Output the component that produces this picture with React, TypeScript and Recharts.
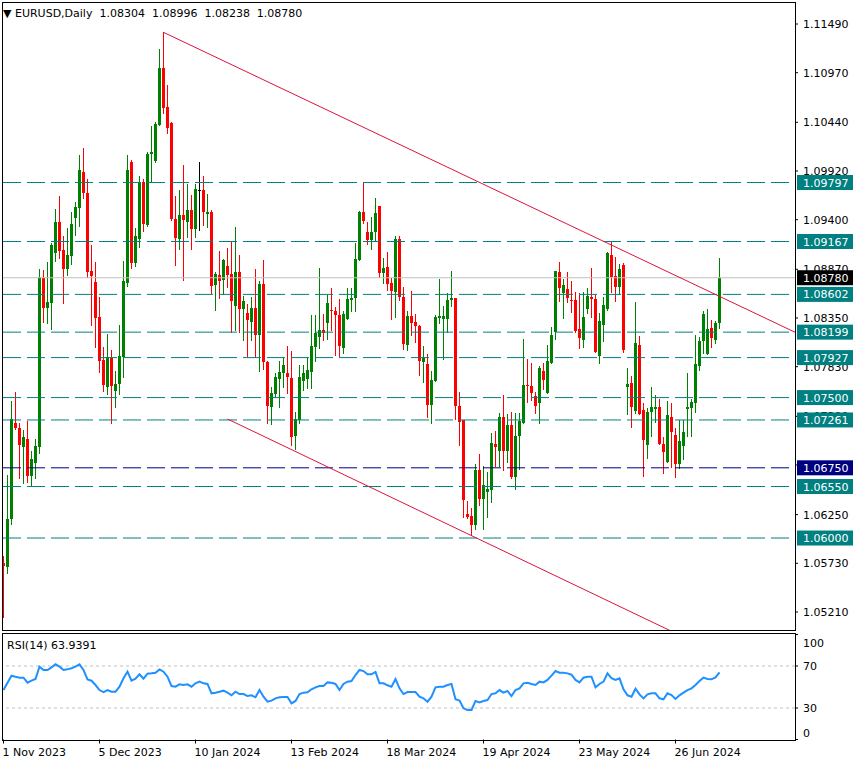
import React from "react";
import {
  ComposedChart,
  Bar,
  Line,
  XAxis,
  YAxis,
  ReferenceLine,
} from "recharts";

// EURUSD daily, bar 0 = 1 Nov 2023
const opens = [
  1.0573, 1.05694, 1.06203, 1.07225, 1.07175, 1.06972, 1.07057, 1.06655, 1.06798, 1.06975,
  1.08777, 1.0846, 1.08513, 1.09047, 1.09375, 1.09076, 1.08876, 1.09015, 1.09421, 1.09528,
  1.09909, 1.09685, 1.08852, 1.08734, 1.0836, 1.07904, 1.07616, 1.07919, 1.07573, 1.07642,
  1.07936, 1.08727, 1.10019, 1.0894, 1.09197, 1.09802, 1.09343, 1.10101, 1.1003, 1.10414,
  1.1102, 1.10603, 1.10432, 1.09407, 1.09193, 1.0945, 1.09375, 1.09503, 1.093, 1.09714,
  1.09714, 1.0946, 1.09482, 1.08702, 1.08809, 1.08756, 1.08905, 1.0882, 1.08481, 1.08841,
  1.08449, 1.084, 1.08307, 1.08457, 1.08171, 1.08716, 1.07883, 1.07396, 1.07531, 1.07698,
  1.07766, 1.07759, 1.07712, 1.07082, 1.0726, 1.07669, 1.07698, 1.07776, 1.08043, 1.0815,
  1.08222, 1.08289, 1.08435, 1.08425, 1.08379, 1.08033, 1.08342, 1.08545, 1.0856, 1.08969,
  1.09479, 1.09268, 1.09183, 1.09261, 1.09546, 1.08834, 1.08891, 1.08727, 1.08631, 1.09193,
  1.08577, 1.08061, 1.08371, 1.08307, 1.08264, 1.07883, 1.07858, 1.07424, 1.0768, 1.08353,
  1.08336, 1.08342, 1.08535, 1.0856, 1.0741, 1.07257, 1.06256, 1.06235, 1.06139, 1.06726,
  1.0642, 1.06499, 1.06513, 1.07004, 1.06933, 1.07296, 1.06933, 1.07207, 1.06648, 1.07093,
  1.07225, 1.07634, 1.07624, 1.0752, 1.07439, 1.07784, 1.07552, 1.07872, 1.08197, 1.08841,
  1.0862, 1.08656, 1.08542, 1.08542, 1.08232, 1.08107, 1.08449, 1.08571, 1.08553, 1.07947,
  1.08275, 1.08446, 1.09023, 1.08798, 1.08678, 1.08919, 1.07616, 1.07652, 1.07356, 1.08058,
  1.07364, 1.06997, 1.07338, 1.07381, 1.07399, 1.07004, 1.06815, 1.07292, 1.071, 1.0679,
  1.0698, 1.0737, 1.07392, 1.07445, 1.0784, 1.08107, 1.07968, 1.0824, 1.08122, 1.08304,
];

const highs = [
  1.05808, 1.06673, 1.07463, 1.07556, 1.07225, 1.07154, 1.07253, 1.06929, 1.07057, 1.08873,
  1.08862, 1.08948, 1.09148, 1.09514, 1.09653, 1.09226, 1.09311, 1.09482, 1.09589, 1.10094,
  1.10165, 1.09834, 1.09129, 1.08948, 1.08577, 1.0804, 1.08179, 1.08008, 1.07784, 1.08275,
  1.08959, 1.10094, 1.10037, 1.09311, 1.0987, 1.09834, 1.10123, 1.104, 1.10446, 1.11223,
  1.11401, 1.10838, 1.10446, 1.09653, 1.09717, 1.09984, 1.09781, 1.09667, 1.09781, 1.10016,
  1.09866, 1.09674, 1.09503, 1.08841, 1.09065, 1.08983, 1.09097, 1.09165, 1.09322, 1.09023,
  1.08585, 1.08499, 1.08577, 1.08873, 1.08742, 1.08969, 1.0789, 1.07616, 1.07759, 1.07891,
  1.07936, 1.08051, 1.07997, 1.07349, 1.07848, 1.07848, 1.07936, 1.08382, 1.08382, 1.08887,
  1.08392, 1.08599, 1.08667, 1.0847, 1.08556, 1.08425, 1.08667, 1.08667, 1.09148, 1.09489,
  1.09799, 1.09378, 1.09432, 1.09628, 1.09546, 1.08987, 1.09051, 1.08774, 1.09226, 1.09226,
  1.08684, 1.08428, 1.08638, 1.08392, 1.08275, 1.08051, 1.07965, 1.07784, 1.08379, 1.08766,
  1.08481, 1.08614, 1.08852, 1.0856, 1.07559, 1.07257, 1.06399, 1.06317, 1.06787, 1.06897,
  1.06769, 1.06705, 1.07125, 1.07143, 1.07338, 1.07527, 1.07324, 1.07343, 1.07332, 1.07332,
  1.08125, 1.07909, 1.07866, 1.07556, 1.0784, 1.07866, 1.08061, 1.08257, 1.08855, 1.08948,
  1.08763, 1.08841, 1.08742, 1.08631, 1.08614, 1.08624, 1.08667, 1.08887, 1.08603, 1.084,
  1.08577, 1.09051, 1.09158, 1.09004, 1.08923, 1.08934, 1.07819, 1.0773, 1.08524, 1.08158,
  1.07439, 1.07385, 1.07616, 1.07527, 1.07485, 1.07082, 1.07463, 1.07439, 1.07178, 1.0726,
  1.0726, 1.07759, 1.07488, 1.08168, 1.0815, 1.08428, 1.08443, 1.08328, 1.08318, 1.08996,
];

const lows = [
  1.0516, 1.05623, 1.06146, 1.07161, 1.06638, 1.06584, 1.06595, 1.06556, 1.06644, 1.06911,
  1.0831, 1.08293, 1.08235, 1.08962, 1.08994, 1.08513, 1.08812, 1.08926, 1.09236, 1.09332,
  1.09631, 1.08784, 1.08275, 1.08037, 1.07773, 1.07573, 1.07538, 1.07232, 1.07402, 1.07538,
  1.07723, 1.08695, 1.08881, 1.08908, 1.09111, 1.09282, 1.09336, 1.09799, 1.10016, 1.10408,
  1.10536, 1.10329, 1.09396, 1.08916, 1.0909, 1.08756, 1.09218, 1.09087, 1.09218, 1.0929,
  1.09343, 1.09325, 1.08614, 1.08435, 1.0856, 1.08606, 1.08684, 1.082, 1.08222, 1.082,
  1.08115, 1.07947, 1.08115, 1.07936, 1.07787, 1.07802, 1.07225, 1.07218, 1.0752, 1.07402,
  1.07616, 1.07552, 1.06993, 1.06947, 1.07225, 1.07581, 1.07605, 1.07599, 1.07894, 1.08026,
  1.08115, 1.08122, 1.08222, 1.07955, 1.07947, 1.07973, 1.08339, 1.08428, 1.08428, 1.08969,
  1.09361, 1.0914, 1.09083, 1.09172, 1.08791, 1.0872, 1.08649, 1.08342, 1.08357, 1.08542,
  1.08015, 1.08008, 1.08168, 1.08097, 1.07741, 1.07669, 1.07296, 1.07232, 1.0768, 1.083,
  1.07909, 1.08197, 1.08478, 1.07271, 1.0699, 1.06221, 1.06211, 1.06029, 1.061, 1.06349,
  1.061, 1.06221, 1.06381, 1.06769, 1.06769, 1.06726, 1.06815, 1.06638, 1.0652, 1.0674,
  1.07225, 1.07456, 1.07474, 1.07338, 1.07232, 1.07588, 1.07552, 1.07866, 1.08125, 1.08535,
  1.08346, 1.08524, 1.08417, 1.08203, 1.08033, 1.08043, 1.084, 1.08364, 1.0799, 1.07872,
  1.08104, 1.08435, 1.08627, 1.08535, 1.08603, 1.07987, 1.07324, 1.07189, 1.07332, 1.07321,
  1.06666, 1.06858, 1.0709, 1.07242, 1.07007, 1.06698, 1.06815, 1.06762, 1.06655, 1.06751,
  1.06847, 1.0709, 1.07093, 1.07349, 1.07794, 1.07979, 1.07968, 1.08043, 1.0808, 1.08238,
];

const closes = [
  1.05694, 1.06203, 1.07268, 1.07168, 1.06997, 1.07079, 1.06666, 1.06841, 1.06983, 1.08788,
  1.0846, 1.08521, 1.09129, 1.09375, 1.09069, 1.08876, 1.09023, 1.09354, 1.09535, 1.0993,
  1.09682, 1.08844, 1.08802, 1.08353, 1.07894, 1.07634, 1.07933, 1.07616, 1.07645, 1.07944,
  1.08745, 1.0993, 1.0894, 1.09226, 1.09802, 1.09354, 1.10098, 1.10123, 1.10422, 1.1102,
  1.10593, 1.10382, 1.09407, 1.09204, 1.0945, 1.09396, 1.09503, 1.093, 1.09727, 1.09714,
  1.09482, 1.09482, 1.08695, 1.0882, 1.08748, 1.08972, 1.08809, 1.08535, 1.08841, 1.08449,
  1.08531, 1.08321, 1.08457, 1.08171, 1.08716, 1.07883, 1.07413, 1.07546, 1.07716, 1.0777,
  1.07848, 1.07712, 1.07082, 1.07268, 1.07716, 1.07759, 1.07794, 1.08051, 1.08193, 1.08222,
  1.08193, 1.08507, 1.08425, 1.08379, 1.08043, 1.08392, 1.08553, 1.08567, 1.0898, 1.09479,
  1.09386, 1.09183, 1.09268, 1.09468, 1.08827, 1.08884, 1.08713, 1.08641, 1.09193, 1.08577,
  1.08072, 1.08371, 1.083, 1.08264, 1.07894, 1.07923, 1.07424, 1.07688, 1.0836, 1.08371,
  1.08371, 1.08542, 1.0856, 1.07402, 1.07242, 1.06399, 1.06228, 1.06139, 1.06726, 1.0642,
  1.06566, 1.06527, 1.07018, 1.06969, 1.07296, 1.06933, 1.07207, 1.06655, 1.0709, 1.07253,
  1.07634, 1.07624, 1.07546, 1.07413, 1.07816, 1.07688, 1.07891, 1.08168, 1.08849, 1.08667,
  1.08702, 1.08556, 1.08531, 1.08214, 1.08139, 1.08357, 1.08585, 1.08553, 1.0799, 1.08318,
  1.08489, 1.09044, 1.08784, 1.08678, 1.08873, 1.08015, 1.07645, 1.07392, 1.0808, 1.07321,
  1.07047, 1.07346, 1.07396, 1.07399, 1.07007, 1.06922, 1.07314, 1.07136, 1.0679, 1.07036,
  1.07132, 1.07396, 1.07453, 1.07858, 1.08104, 1.08392, 1.08232, 1.08129, 1.083, 1.0878,
];

const rsi14 = [
  47.1, 54.1, 60.8, 59.8, 58.9, 58.9, 54.1, 56.0, 57.6, 69.4,
  66.2, 66.2, 68.7, 71.6, 69.4, 66.2, 66.8, 67.8, 69.4, 71.6,
  66.2, 57.3, 56.0, 51.9, 47.1, 45.2, 47.1, 45.5, 45.5, 50.3,
  58.3, 64.6, 56.0, 57.9, 62.1, 57.9, 62.7, 63.0, 63.6, 66.8,
  64.6, 59.8, 50.9, 50.3, 52.5, 51.9, 52.5, 50.3, 53.5, 55.1,
  53.5, 52.9, 44.0, 44.6, 45.5, 46.5, 44.6, 42.1, 45.5, 43.3,
  43.3, 41.4, 42.1, 40.2, 47.1, 40.8, 36.0, 37.0, 39.2, 40.2,
  40.5, 40.5, 34.4, 36.7, 43.3, 44.6, 44.9, 47.8, 49.7, 50.9,
  50.9, 54.4, 54.1, 52.9, 47.1, 52.9, 55.1, 55.7, 61.4, 66.2,
  65.2, 62.1, 62.1, 64.3, 53.5, 53.5, 51.6, 50.3, 57.6, 48.7,
  43.3, 45.2, 45.2, 45.2, 40.8, 39.2, 36.0, 40.8, 49.7, 50.3,
  50.3, 51.9, 52.9, 38.3, 37.0, 29.7, 28.1, 28.1, 36.7, 35.4,
  36.7, 37.6, 43.3, 44.0, 47.1, 44.6, 46.2, 41.4, 47.1, 48.7,
  53.5, 54.1, 52.9, 51.9, 55.1, 54.4, 56.7, 60.8, 65.2, 63.6,
  63.6, 63.0, 61.7, 56.7, 54.4, 58.9, 59.8, 59.8, 49.7, 52.9,
  55.1, 63.0, 58.3, 56.7, 58.3, 47.8, 42.1, 40.8, 48.4, 43.0,
  39.2, 43.0, 44.0, 44.0, 39.2, 38.3, 44.0, 42.4, 38.6, 42.1,
  44.6, 47.1, 48.7, 51.9, 55.7, 58.9, 57.6, 57.3, 59.2, 63.94,
];

const priceTicks = [
  1.1149, 1.1097, 1.1044, 1.0992, 1.094, 1.0887, 1.0835, 1.0783, 1.073, 1.0678, 1.0625,
  1.0573, 1.0521,
];
const rsiTicks = [0, 30, 70, 100];
const dateTicks = [0, 24, 48, 72, 96, 120, 144, 168];
const dateLabels = [
  "1 Nov 2023",
  "5 Dec 2023",
  "10 Jan 2024",
  "13 Feb 2024",
  "18 Mar 2024",
  "19 Apr 2024",
  "23 May 2024",
  "26 Jun 2024",
];

const levels = [1.09797, 1.09167, 1.08602, 1.08199, 1.07927, 1.075, 1.07261, 1.0655, 1.06];
const keyLevel = 1.0675;
const lastPrice = 1.0878;

const upperTrend = [
  { i: 40, p: 1.11401 },
  { i: 197.875, p: 1.08198 },
];
const lowerTrend = [
  { i: 56, p: 1.07271 },
  { i: 180, p: 1.04739 },
];

const rows = opens.map((o, i) => ({
  i,
  open: o,
  high: highs[i],
  low: lows[i],
  close: closes[i],
  range: [lows[i], highs[i]],
  rsi: rsi14[i],
}));

const FONT = "DejaVu Sans";
const X_DOMAIN: [number, number] = [-0.125, 197.875];
const Y_DOMAIN: [number, number] = [1.05007, 1.11725];
const TEAL = "#008080";

const Candle = (props: any) => {
  const { x, y, width, height, payload } = props;
  if (x == null || y == null) return null;
  const { open, close, high, low } = payload;
  const top = Math.min(y, y + height);
  const bottom = Math.max(y, y + height);
  const k = high > low ? (bottom - top) / (high - low) : 0;
  const yOf = (p: number) => top + (high - p) * k;
  const cx = Math.floor(x + width / 2) + 0.5;
  const color = close > open ? "#008000" : close < open ? "#ff0000" : "#000000";
  const yo = yOf(open);
  const yc = yOf(close);
  const bTop = Math.round(Math.min(yo, yc));
  const bH = Math.max(1, Math.round(Math.abs(yo - yc)));
  return (
    <g>
      <line x1={cx} x2={cx} y1={Math.round(top)} y2={Math.round(bottom) + 1} stroke={color} strokeWidth={1} />
      <rect x={cx - 1.5} y={bTop} width={3} height={bH} fill={color} shapeRendering="crispEdges" />
    </g>
  );
};

const LevelTag = (props: any) => {
  const { viewBox, text, bg } = props;
  if (!viewBox) return null;
  const y = viewBox.y;
  return (
    <g>
      <rect x={797} y={y - 7.5} width={56} height={15} fill={bg} />
      <text x={803} y={y + 4} fill="#ffffff" fontSize={11} fontFamily={FONT}>
        {text}
      </text>
    </g>
  );
};

const RsiTick = (props: any) => {
  const { y, payload } = props;
  const v = payload.value;
  const dy = v === 100 ? 8 : v === 0 ? -7 : 0;
  return (
    <text x={803} y={y + dy + 4} fontSize={11} fill="#000" fontFamily={FONT}>
      {v}
    </text>
  );
};

const DateTick = (props: any) => {
  const { x, payload } = props;
  const idx = dateTicks.indexOf(payload.value);
  return (
    <text x={x - 1} y={123} fontSize={11} fill="#000" fontFamily={FONT}>
      {dateLabels[idx]}
    </text>
  );
};

export default function App() {
  return (
    <div
      style={{
        position: "absolute",
        left: 0,
        top: 0,
        width: 859,
        height: 764,
        background: "#ffffff",
        overflow: "hidden",
      }}
    >
      {/* price pane: axis + candles */}
      <div style={{ position: "absolute", left: 0, top: 0 }}>
        <ComposedChart width={859} height={633} data={rows} margin={{ top: 2, right: 0, bottom: 2, left: 3 }}>
          <XAxis dataKey="i" type="number" domain={X_DOMAIN} allowDataOverflow hide />
          <YAxis
            orientation="right"
            type="number"
            width={64}
            domain={Y_DOMAIN}
            allowDataOverflow
            ticks={priceTicks}
            interval={0}
            tickSize={3}
            tickMargin={5}
            axisLine={false}
            tickLine={{ stroke: "#000" }}
            tick={{ fontSize: 11, fill: "#000", fontFamily: FONT }}
            tickFormatter={(v: number) => v.toFixed(5)}
          />
          <Bar dataKey="range" shape={<Candle />} barSize={3} isAnimationActive={false} />
        </ComposedChart>
      </div>

      {/* drawn objects on top: levels, bid line, trend lines */}
      <div style={{ position: "absolute", left: 0, top: 0, pointerEvents: "none" }}>
        <ComposedChart width={859} height={633} data={rows} margin={{ top: 2, right: 64, bottom: 2, left: 3 }}>
          <XAxis dataKey="i" type="number" domain={X_DOMAIN} allowDataOverflow hide />
          <YAxis type="number" domain={Y_DOMAIN} allowDataOverflow hide />
          <ReferenceLine
            y={lastPrice}
            stroke="#c0c0c0"
            strokeWidth={1}
            label={<LevelTag text={lastPrice.toFixed(5)} bg="#000000" />}
          />
          {levels.map((lv) => (
            <ReferenceLine
              key={lv}
              y={lv}
              stroke={TEAL}
              strokeWidth={1}
              strokeDasharray="18 6"
              label={<LevelTag text={lv.toFixed(5)} bg={TEAL} />}
            />
          ))}
          <ReferenceLine
            y={keyLevel}
            stroke="#000080"
            strokeWidth={1}
            strokeDasharray="18 6"
            label={<LevelTag text={keyLevel.toFixed(5)} bg="#000080" />}
          />
          <ReferenceLine
            segment={upperTrend.map((d) => ({ x: d.i, y: d.p }))}
            stroke="#dc143c"
            strokeWidth={1}
            ifOverflow="hidden"
          />
          <ReferenceLine
            segment={lowerTrend.map((d) => ({ x: d.i, y: d.p }))}
            stroke="#dc143c"
            strokeWidth={1}
            ifOverflow="hidden"
          />
        </ComposedChart>
      </div>

      {/* RSI pane with date axis */}
      <div style={{ position: "absolute", left: 0, top: 633 }}>
        <ComposedChart width={859} height={131} data={rows} margin={{ top: 1.5, right: 0, bottom: 0, left: 3 }}>
          <XAxis
            dataKey="i"
            type="number"
            domain={X_DOMAIN}
            allowDataOverflow
            ticks={dateTicks}
            interval={0}
            height={24.5}
            tickSize={4}
            axisLine={false}
            tickLine={{ stroke: "#000" }}
            tick={<DateTick />}
          />
          <YAxis
            orientation="right"
            type="number"
            width={64}
            domain={[0, 100]}
            ticks={rsiTicks}
            interval={0}
            tickSize={3}
            tickMargin={5}
            axisLine={false}
            tickLine={{ stroke: "#000" }}
            tick={<RsiTick />}
          />
          <ReferenceLine y={70} stroke="#c0c0c0" strokeDasharray="3 3" />
          <ReferenceLine y={30} stroke="#c0c0c0" strokeDasharray="3 3" />
          <Line dataKey="rsi" stroke="#1e90ff" strokeWidth={2} dot={false} isAnimationActive={false} />
        </ComposedChart>
      </div>

      <svg
        width={859}
        height={764}
        style={{ position: "absolute", left: 0, top: 0, pointerEvents: "none" }}
      >
        <rect x={2.5} y={2.5} width={793} height={628} fill="none" stroke="#000" strokeWidth={1} />
        <rect x={2.5} y={633.5} width={793} height={107} fill="none" stroke="#000" strokeWidth={1} />
        <text x={3} y={17} fontSize={11} fill="#000" fontFamily={FONT} style={{ whiteSpace: "pre" }}>
          {"▼ EURUSD,Daily  1.08304  1.08996  1.08238  1.08780"}
        </text>
        <text x={7} y={649} fontSize={11} fill="#000" fontFamily={FONT} style={{ whiteSpace: "pre" }}>
          {"RSI(14) 63.9391"}
        </text>
      </svg>
    </div>
  );
}
